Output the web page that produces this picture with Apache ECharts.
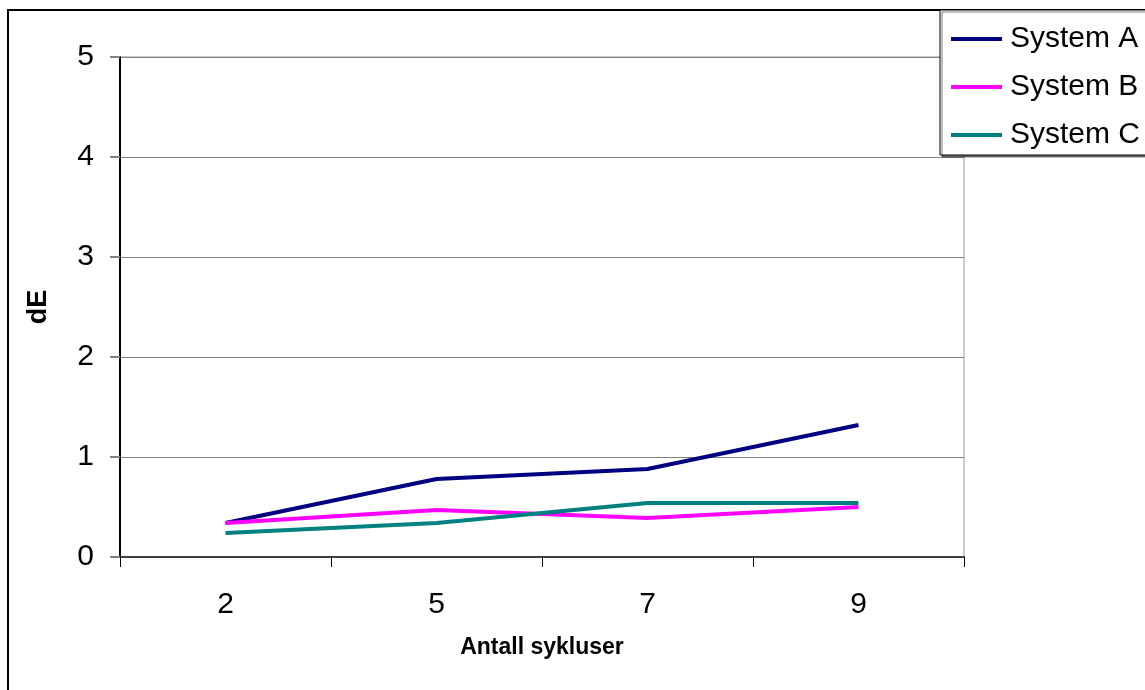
<!DOCTYPE html>
<html>
<head>
<meta charset="utf-8">
<script src="https://cdn.jsdelivr.net/npm/echarts@6/dist/echarts.min.js"></script>
<style>
html,body{margin:0;padding:0;background:#fff;}
#chart{width:1145px;height:690px;}
</style>
</head>
<body>
<div id="chart"></div>
<script>
const categories = ['2', '5', '7', '9'];
const systemA = [0.34, 0.78, 0.88, 1.32];
const systemB = [0.34, 0.47, 0.39, 0.50];
const systemC = [0.24, 0.34, 0.54, 0.54];
const seriesNames = ['System A', 'System B', 'System C'];
const xAxisTitle = 'Antall sykluser';
const yAxisTitle = 'dE';

const font = '"Liberation Sans", Arial, sans-serif';
const chart = echarts.init(document.getElementById('chart'));
chart.setOption({
  animation: false,
  backgroundColor: '#fff',
  textStyle: { fontFamily: font },
  graphic: [{
    type: 'rect',
    shape: { x: 8, y: 10, width: 1300, height: 900 },
    style: { fill: 'none', stroke: '#000', lineWidth: 2 },
    silent: true, z: -1
  }],
  grid: {
    left: 120, top: 57, right: 181, bottom: 133,
    show: true, borderColor: '#999', borderWidth: 1, backgroundColor: '#fff'
  },
  legend: {
    orient: 'vertical',
    left: 940, top: 10,
    padding: [14, 20, 5, 11],
    backgroundColor: '#fff',
    borderColor: '#000', borderWidth: 1,
    shadowColor: 'rgba(0,0,0,0.5)', shadowOffsetX: 2, shadowOffsetY: 2,
    icon: 'rect', itemWidth: 51, itemHeight: 4, itemGap: 18,
    textStyle: { fontSize: 30, lineHeight: 30, color: '#000', fontFamily: font, padding: [0, 0, 0, 3] },
    data: seriesNames
  },
  xAxis: {
    type: 'category', data: categories, boundaryGap: true,
    name: xAxisTitle, nameLocation: 'middle', nameGap: 79,
    nameTextStyle: { fontSize: 23, fontWeight: 'bold', color: '#000', fontFamily: font },
    axisLine: { lineStyle: { color: '#404040', width: 2 } },
    axisTick: { show: true, length: 10, lineStyle: { color: '#000', width: 1 } },
    axisLabel: { fontSize: 30, color: '#000', margin: 33, fontFamily: font },
    splitLine: { show: false }
  },
  yAxis: {
    type: 'value', min: 0, max: 5, interval: 1,
    name: yAxisTitle, nameLocation: 'middle', nameGap: 68, nameRotate: 90,
    nameTextStyle: { fontSize: 27, fontWeight: 'bold', color: '#000', fontFamily: font },
    axisLine: { show: true, lineStyle: { color: '#000', width: 2 } },
    axisTick: { show: true, length: 10, lineStyle: { color: '#808080', width: 2 } },
    axisLabel: { fontSize: 30, color: '#000', margin: 26, padding: [4, 0, 0, 0], fontFamily: font },
    splitLine: { show: true, lineStyle: { color: '#808080', width: 1 } }
  },
  series: [
    { name: seriesNames[0], type: 'line', data: systemA, symbol: 'none', lineStyle: { color: '#000080', width: 4 }, itemStyle: { color: '#000080' } },
    { name: seriesNames[1], type: 'line', data: systemB, symbol: 'none', lineStyle: { color: '#FF00FF', width: 4 }, itemStyle: { color: '#FF00FF' } },
    { name: seriesNames[2], type: 'line', data: systemC, symbol: 'none', lineStyle: { color: '#008080', width: 4 }, itemStyle: { color: '#008080' } }
  ]
});
</script>
</body>
</html>
